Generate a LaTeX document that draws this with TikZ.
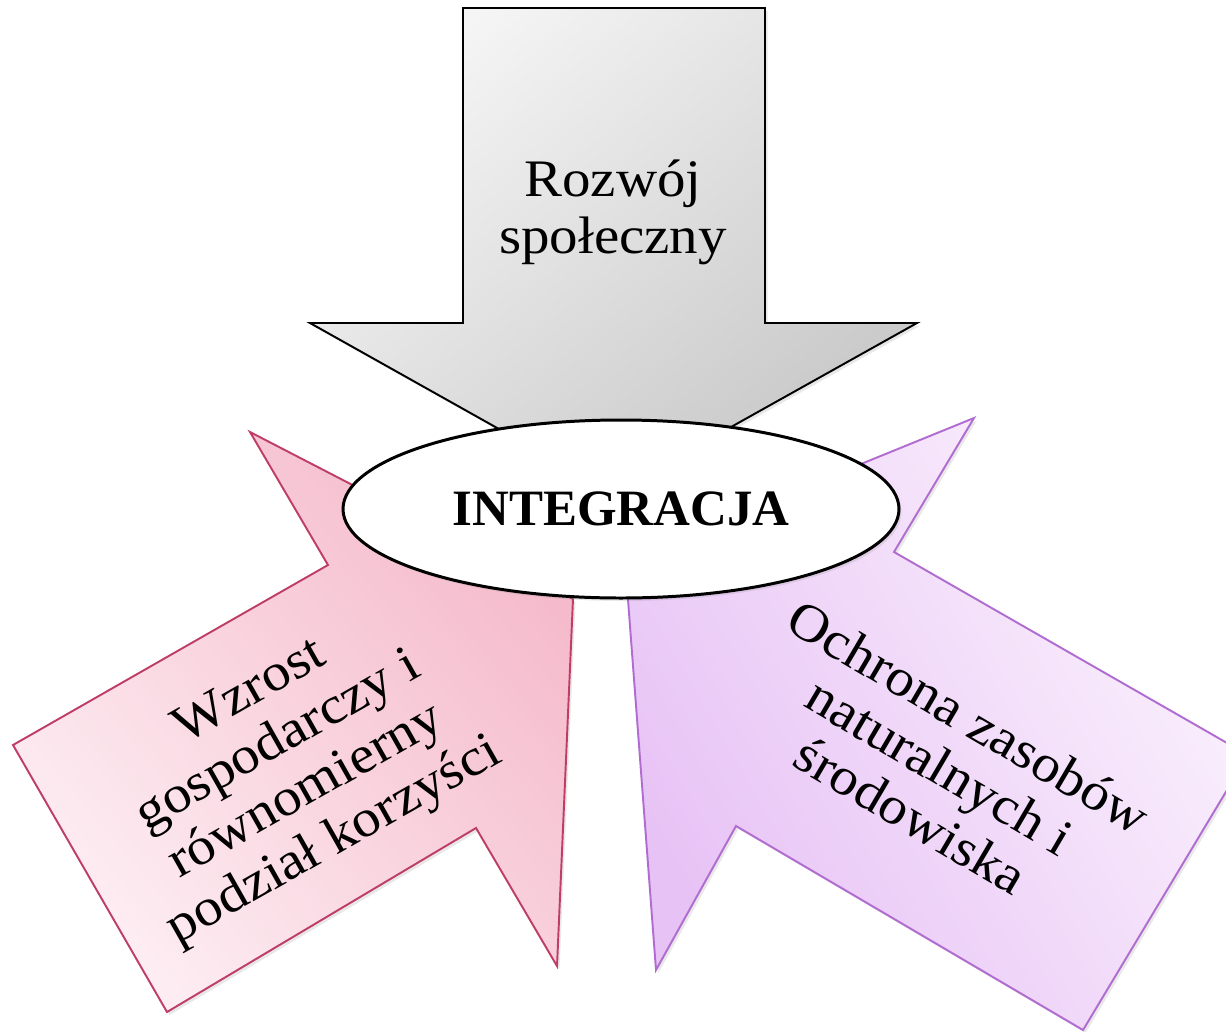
\documentclass[tikz,border=0pt]{standalone}
\usepackage{fontspec}
\setmainfont{Liberation Serif}
\newfontfamily\arrowfont[FakeStretch=1.08]{Liberation Serif}
\usepackage{tikz}
\usetikzlibrary{shadows}

\definecolor{grayhi}{RGB}{245,245,245}
\definecolor{graylo}{RGB}{200,200,200}
\definecolor{pinkhi}{RGB}{245,186,203}
\definecolor{pinklo}{RGB}{253,238,243}
\definecolor{pinkline}{RGB}{190,62,104}
\definecolor{lilachi}{RGB}{251,242,253}
\definecolor{lilaclo}{RGB}{231,194,245}
\definecolor{lilacline}{RGB}{176,108,208}

\begin{document}
\begin{tikzpicture}[x=0.02cm, y=-0.02cm,
	softshadow/.style={drop shadow={shadow xshift=0.05cm, shadow yshift=-0.06cm, opacity=0.18}},
	arrowtext/.style={font=\arrowfont\fontsize{30}{32.5}\selectfont, align=center, inner sep=0pt}]
	% Frame
	\useasboundingbox (0,0) rectangle (1226,1031);
	\clip (0,0) rectangle (1226,1031);

	%Gray arrow (top)
	\draw[line width=1.1pt, black, softshadow, top color=grayhi, bottom color=graylo, shading angle=40]
		(463,8) -- (765,8) -- (765,323) -- (917,323) -- (613,493) -- (310,323) -- (463,323) -- cycle;
	\node[arrowtext] (social) at (613,212) {Rozwój\\społeczny};

	%Pink arrow (left)
	\draw[line width=1.1pt, pinkline, softshadow, top color=pinkhi, bottom color=pinklo, shading angle=-50]
		(250,432) -- (573,599) -- (557,966) -- (476,828) -- (167,1012) -- (13,745) -- (328,565) -- cycle;
	\node[arrowtext, rotate=29.5] (economy) at (293,768) {Wzrost\\gospodarczy i\\równomierny\\podział korzyści};

	%Lilac arrow (right)
	\draw[line width=1.1pt, lilacline, softshadow, top color=lilachi, bottom color=lilaclo, shading angle=-60]
		(974,418) -- (894,552) -- (1248,755) -- (1083,1030) -- (736,826) -- (656,970) -- (625,560) -- cycle;
	\node[arrowtext, rotate=-30.5] (nature) at (940,766) {Ochrona zasobów\\naturalnych i\\środowiska};

	%Centre ellipse
	\draw[line width=1.7pt, fill=white, softshadow] (621,509) ellipse [x radius=278, y radius=89];
	\node[font=\bfseries\fontsize{29}{32}\selectfont] (integr) at (621,509) {INTEGRACJA};
\end{tikzpicture}
\end{document}
